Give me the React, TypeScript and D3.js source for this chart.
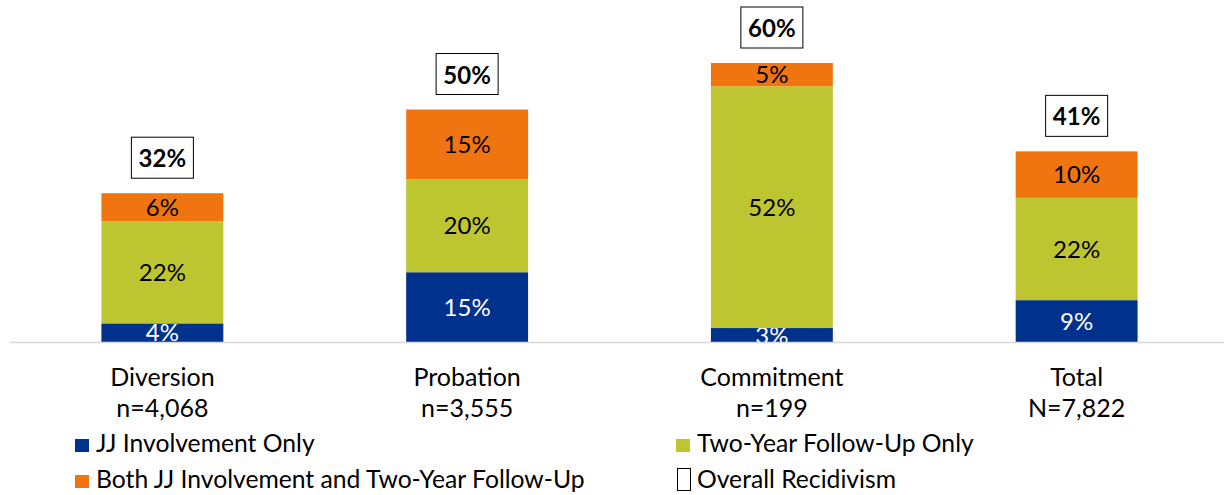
import React from "react";
import * as d3 from "d3";

const categories = ["Diversion", "Probation", "Commitment", "Total"];
const sampleSizes = ["n=4,068", "n=3,555", "n=199", "N=7,822"];
const jjOnly = [4, 15, 3, 9];
const followUpOnly = [22, 20, 52, 22];
const both = [6, 15, 5, 10];
const overall = [32, 50, 60, 41];

const seriesNames = [
  "JJ Involvement Only",
  "Two-Year Follow-Up Only",
  "Both JJ Involvement and Two-Year Follow-Up",
  "Overall Recidivism",
];
const COLORS = ["#00318C", "#BDC630", "#F07510"];

const W = 1224;
const H = 495;
const FONT = "Lato, 'Open Sans', sans-serif";

export default function App() {
  const x = d3
    .scaleBand<string>()
    .domain(categories)
    .range([10, 1229])
    .paddingInner(0.6)
    .paddingOuter(0.3);
  const y = d3.scaleLinear().domain([0, 60]).range([342, 63]);

  const rows = categories.map((c, i) => ({
    cat: c,
    jj: jjOnly[i],
    fu: followUpOnly[i],
    both: both[i],
  }));
  const stack = d3.stack<any>().keys(["jj", "fu", "both"])(rows);
  const bw = x.bandwidth();

  return (
    <svg
      width={W}
      height={H}
      style={{ position: "absolute", left: 0, top: 0, background: "#fff" }}
      fontFamily={FONT}
    >
      {stack.map((layer, li) =>
        layer.map((d, i) => {
          const x0 = x(categories[i])!;
          const yTop = y(d[1]);
          const yBot = y(d[0]);
          const val = d[1] - d[0];
          return (
            <g key={`${li}-${i}`}>
              <rect x={x0} y={yTop} width={bw} height={yBot - yTop} fill={COLORS[li]} />
              <text
                x={x0 + bw / 2}
                y={(yTop + yBot) / 2 - 1}
                textAnchor="middle"
                dominantBaseline="central"
                fontSize={24}
                fill={li === 0 ? "#ffffff" : "#000000"}
              >
                {`${val}%`}
              </text>
            </g>
          );
        })
      )}
      <line x1={10} x2={W} y1={342.5} y2={342.5} stroke="#d9d9d9" strokeWidth={1.5} />
      {overall.map((v, i) => {
        const cx = x(categories[i])! + bw / 2;
        const top = y(v);
        return (
          <g key={`ov-${i}`}>
            <rect
              x={cx - 31}
              y={top - 15 - 41}
              width={62}
              height={41}
              fill="#fff"
              stroke="#000"
              strokeWidth={1}
            />
            <text
              x={cx}
              y={top - 15 - 20.5}
              textAnchor="middle"
              dominantBaseline="central"
              fontSize={24}
              fontWeight="bold"
            >
              {`${v}%`}
            </text>
          </g>
        );
      })}
      {categories.map((c, i) => {
        const cx = x(c)! + bw / 2;
        return (
          <g key={`cat-${i}`}>
            <text x={cx} y={386} textAnchor="middle" fontSize={25}>
              {c}
            </text>
            <text x={cx} y={417} textAnchor="middle" fontSize={25}>
              {sampleSizes[i]}
            </text>
          </g>
        );
      })}
      {seriesNames.map((name, i) => {
        const col = i % 2 === 0 ? 75 : 676;
        const base = i < 2 ? 452 : 488;
        const colorIdx = i === 0 ? 0 : i === 1 ? 1 : i === 2 ? 2 : -1;
        return (
          <g key={`lg-${i}`}>
            {colorIdx >= 0 ? (
              <rect x={col} y={base - 13} width={14} height={13} fill={COLORS[colorIdx]} />
            ) : (
              <rect
                x={col + 1.5}
                y={base - 19.5}
                width={13}
                height={22}
                fill="none"
                stroke="#000"
                strokeWidth={1}
              />
            )}
            <text x={col + 21} y={base} fontSize={24.7}>
              {name}
            </text>
          </g>
        );
      })}
    </svg>
  );
}
